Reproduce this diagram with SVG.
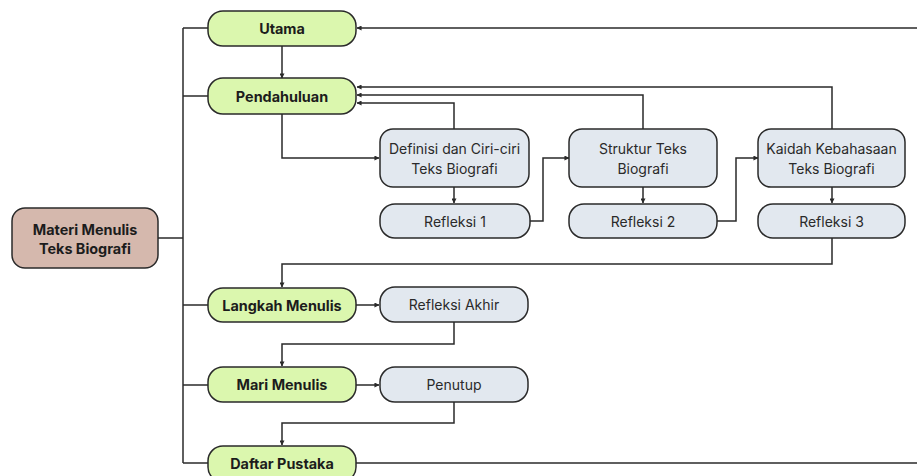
<svg xmlns="http://www.w3.org/2000/svg" width="917" height="476" viewBox="0 0 917 476">
<defs>
<marker id="ah" viewBox="0 0 6 6" refX="5.5" refY="3" markerWidth="5" markerHeight="5" markerUnits="userSpaceOnUse" orient="auto">
<path d="M0,0 L6,3 L0,6 z" fill="#2a2a2a"/>
</marker>
<style>
.g rect{fill:#dbf7ae;stroke:#2a2a2a;stroke-width:1.5}
.b rect{fill:#e2e8ef;stroke:#2a2a2a;stroke-width:1.5}
.m rect{fill:#d5b8ad;stroke:#2a2a2a;stroke-width:1.5}
text{font-family:Inter,"Liberation Sans",sans-serif;text-anchor:middle;dominant-baseline:central;fill:#1c1c1c}
.g text,.m text{font-weight:700;font-size:14.4px}
.b text{font-weight:400;font-size:14px;fill:#2a2a2a}
#connectors path{fill:none;stroke:#2a2a2a;stroke-width:1.5}
.a{marker-end:url(#ah)}
</style>
</defs>
<rect width="917" height="476" fill="#ffffff"/>
<g id="connectors">
<path d="M158,238 H183"/>
<path d="M183,28 V463"/>
<path d="M183,28 H208"/>
<path d="M183,96 H208"/>
<path d="M183,305 H208"/>
<path d="M183,385 H208"/>
<path d="M183,463 H208"/>
<path class="a" d="M917,28 H357"/>
<path d="M356,463 H917"/>
<path class="a" d="M282,46 V78"/>
<path class="a" d="M282,114 V158 H379"/>
<path class="a" d="M454,129 V103 H357"/>
<path class="a" d="M643,129 V95 H357"/>
<path class="a" d="M832,129 V87 H357"/>
<path class="a" d="M454,187 V203"/>
<path class="a" d="M643,187 V203"/>
<path class="a" d="M832,187 V203"/>
<path class="a" d="M530,221 H543 V158 H569"/>
<path class="a" d="M716,221 H736 V158 H758"/>
<path class="a" d="M832,238 V264 H282 V287"/>
<path class="a" d="M356,305 H379"/>
<path class="a" d="M454,322 V344 H282 V366"/>
<path class="a" d="M356,385 H379"/>
<path class="a" d="M454,402 V423 H282 V445"/>
</g>
<g id="materi" class="m"><rect x="12" y="208" width="146" height="60" rx="13"/><text x="85" y="229">Materi Menulis</text><text x="85" y="248">Teks Biografi</text></g>
<g id="utama" class="g"><rect x="208" y="11" width="148" height="35" rx="15"/><text x="282" y="28.5">Utama</text></g>
<g id="pendahuluan" class="g"><rect x="208" y="78" width="148" height="36" rx="15"/><text x="282" y="96">Pendahuluan</text></g>
<g id="definisi" class="b"><rect x="380" y="129" width="149" height="58" rx="13"/><text x="454.5" y="148">Definisi dan Ciri-ciri</text><text x="454.5" y="168">Teks Biografi</text></g>
<g id="struktur" class="b"><rect x="569" y="129" width="148" height="58" rx="13"/><text x="643" y="148">Struktur Teks</text><text x="643" y="168">Biografi</text></g>
<g id="kaidah" class="b"><rect x="758" y="129" width="147" height="58" rx="13"/><text x="831.5" y="148">Kaidah Kebahasaan</text><text x="831.5" y="168">Teks Biografi</text></g>
<g id="refleksi1" class="b"><rect x="380" y="204" width="150" height="34" rx="15"/><text x="455" y="221">Refleksi 1</text></g>
<g id="refleksi2" class="b"><rect x="569" y="204" width="148" height="34" rx="15"/><text x="643" y="221">Refleksi 2</text></g>
<g id="refleksi3" class="b"><rect x="758" y="204" width="147" height="34" rx="15"/><text x="831.5" y="221">Refleksi 3</text></g>
<g id="langkah" class="g"><rect x="208" y="288" width="148" height="34" rx="15"/><text x="282" y="305">Langkah Menulis</text></g>
<g id="refleksiakhir" class="b"><rect x="380" y="287" width="148" height="35" rx="15"/><text x="454" y="304.5">Refleksi Akhir</text></g>
<g id="mari" class="g"><rect x="208" y="367" width="148" height="35" rx="15"/><text x="282" y="384.5">Mari Menulis</text></g>
<g id="penutup" class="b"><rect x="380" y="367" width="148" height="35" rx="15"/><text x="454" y="384.5">Penutup</text></g>
<g id="daftar" class="g"><rect x="208" y="446" width="148" height="36" rx="15"/><text x="282" y="463">Daftar Pustaka</text></g>
</svg>
